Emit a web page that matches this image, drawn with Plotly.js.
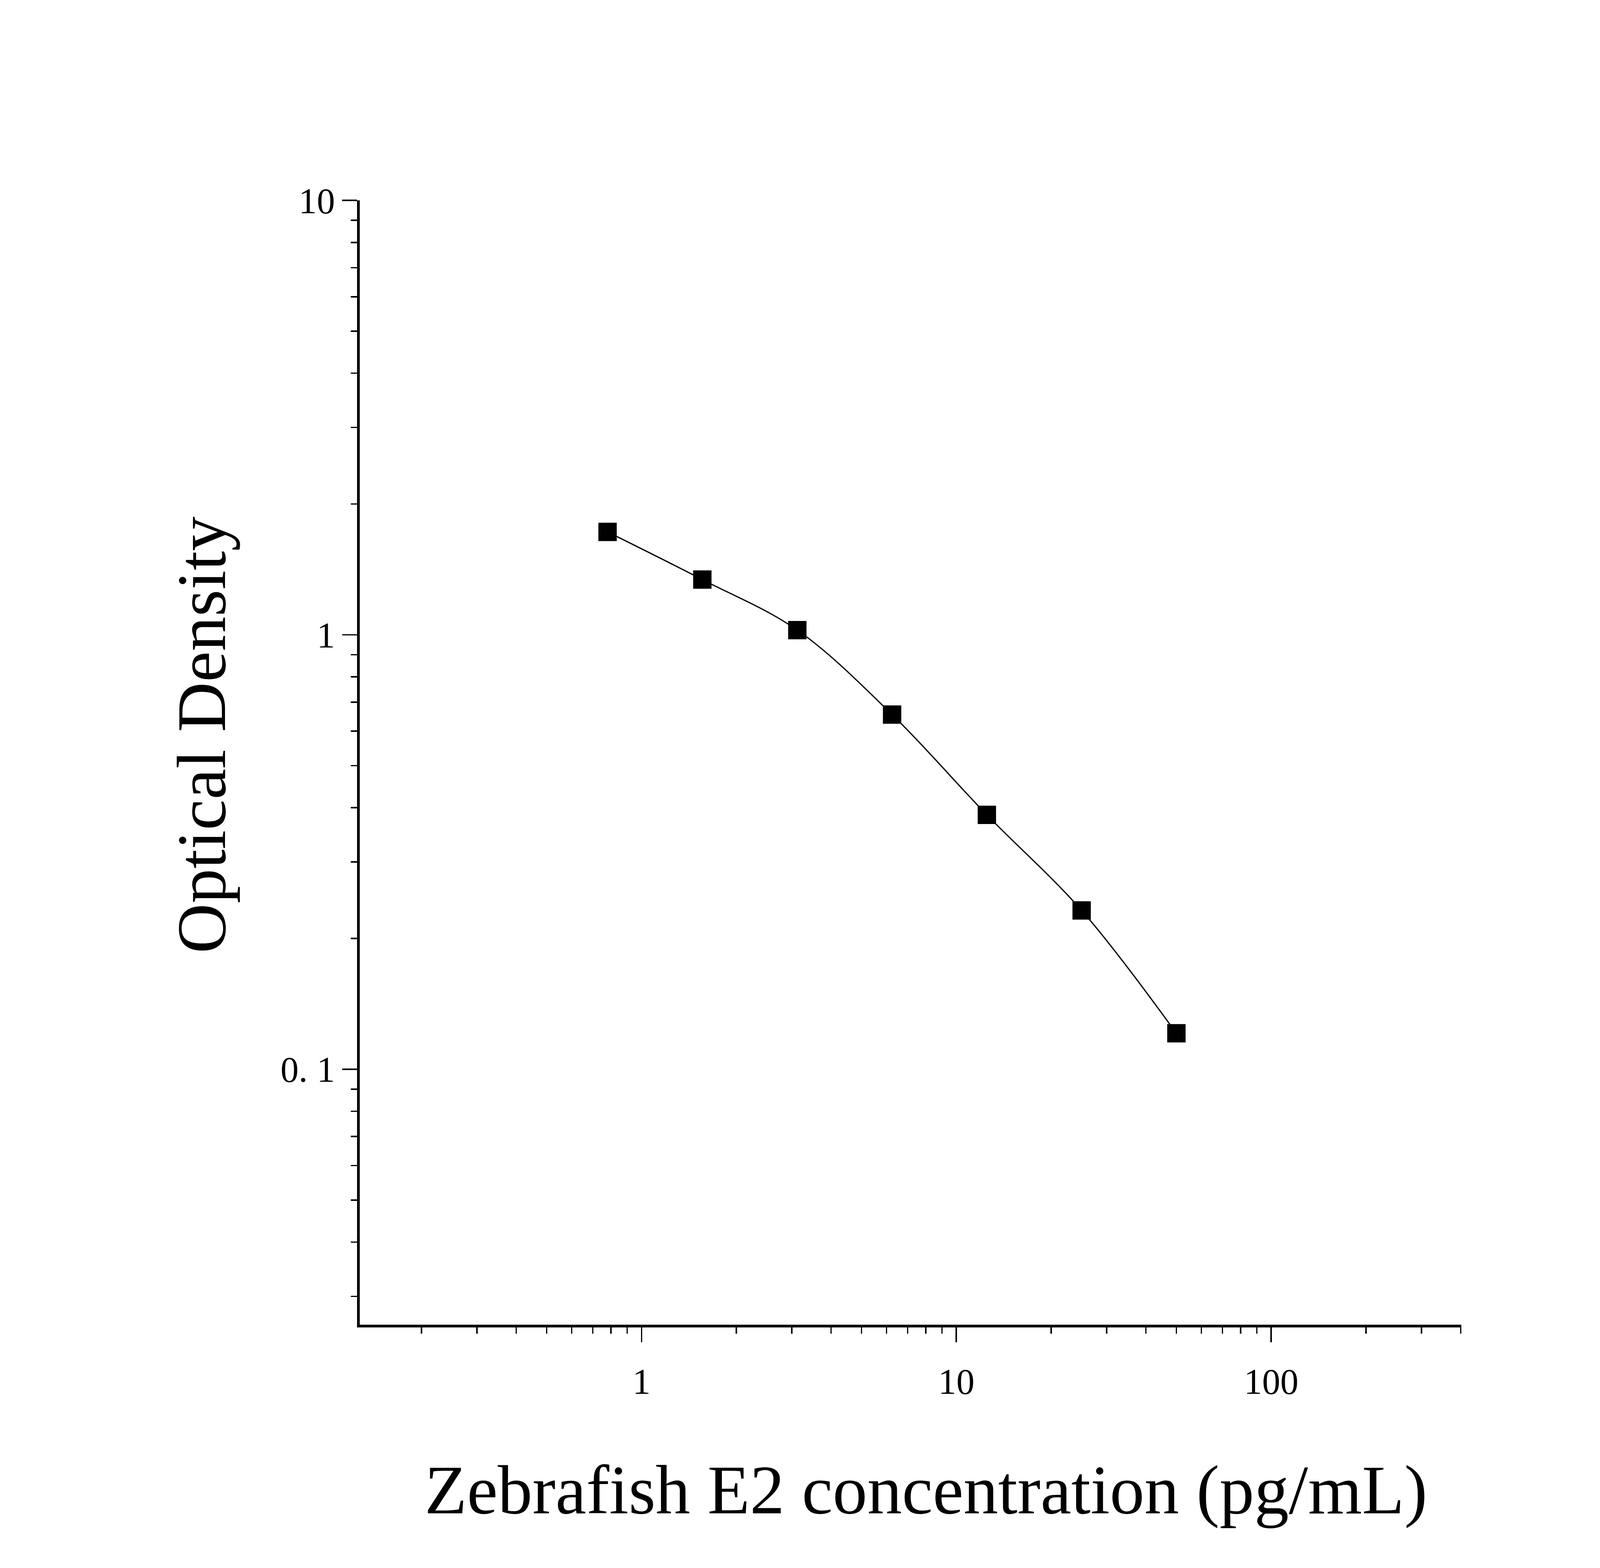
<!DOCTYPE html>
<html>
<head>
<meta charset="utf-8">
<script src="https://cdn.plot.ly/plotly-3.0.1.min.js"></script>
<style>
  html, body { margin: 0; padding: 0; background: #fff; overflow: hidden; }
  #chart { position: absolute; left: 0; top: 0; }
</style>
</head>
<body>
<div id="chart"></div>
<script>
// standard curve: concentration (pg/mL) vs OD
var concentration = [0.78, 1.56, 3.125, 6.25, 12.5, 25, 50];
var opticalDensity = [1.725, 1.34, 1.025, 0.655, 0.385, 0.232, 0.121];

var xTitle = "Zebrafish E2 concentration (pg/mL)";
var yTitle = "Optical Density";

var serif = "Liberation Serif, Times New Roman, serif";

// design size of the reference, scaled to whatever the window really is
var W0 = 5749, H0 = 4015;
var W = window.innerWidth || W0;
var H = window.innerHeight || H0;
var sx = W / W0, sy = H / H0;
var s = Math.min(sx, sy);
var fs = Math.pow(sx, 0.7) * Math.pow(sy, 0.3); // text scale

var curve = {
  x: concentration,
  y: opticalDensity,
  mode: "lines+markers",
  line: { color: "black", width: 4.5 * s, shape: "spline", smoothing: 1 },
  marker: { symbol: "square", size: 66 * s, color: "black", line: { width: 0 } },
  showlegend: false,
  hoverinfo: "x+y"
};

function axisBase() {
  return {
    type: "log",
    showline: true,
    linecolor: "black",
    linewidth: 10 * s,
    showgrid: false,
    zeroline: false,
    ticks: "outside",
    ticklen: 53 * s,
    tickwidth: 5 * s,
    tickcolor: "black",
    dtick: 1,
    tickfont: { family: serif, size: 118 * fs, color: "black" },
    minor: { ticks: "outside", ticklen: 22 * s, tickwidth: 5 * s, tickcolor: "black", dtick: "D1", showgrid: false }
  };
}

var xaxis = axisBase();
xaxis.range = [-0.895, 2.604];
xaxis.ticklabelstandoff = 20 * sy;

var yaxis = axisBase();
yaxis.range = [-1.588, 1];
yaxis.labelalias = { "0.1": "0. 1" };
yaxis.ticklabelstandoff = 10 * sx;

// axis titles placed as paper annotations so they sit where the reference has them
var titleFont = { family: serif, size: 225 * fs, color: "black" };

var layout = {
  width: W,
  height: H,
  paper_bgcolor: "white",
  plot_bgcolor: "white",
  margin: { l: 1292 * sx, r: 498 * sx, t: 513 * sy, b: 623 * sy, pad: 0 },
  font: { family: serif, color: "black" },
  xaxis: xaxis,
  yaxis: yaxis,
  annotations: [
    { text: xTitle, xref: "paper", yref: "paper", x: 0.514, y: -0.147,
      xanchor: "center", yanchor: "middle", showarrow: false, font: titleFont },
    { text: yTitle, xref: "paper", yref: "paper", x: -0.1432, y: 0.5245, textangle: -90,
      xanchor: "center", yanchor: "middle", showarrow: false, font: titleFont }
  ]
};

Plotly.newPlot("chart", [curve], layout, { staticPlot: true, displayModeBar: false });
</script>
</body>
</html>
